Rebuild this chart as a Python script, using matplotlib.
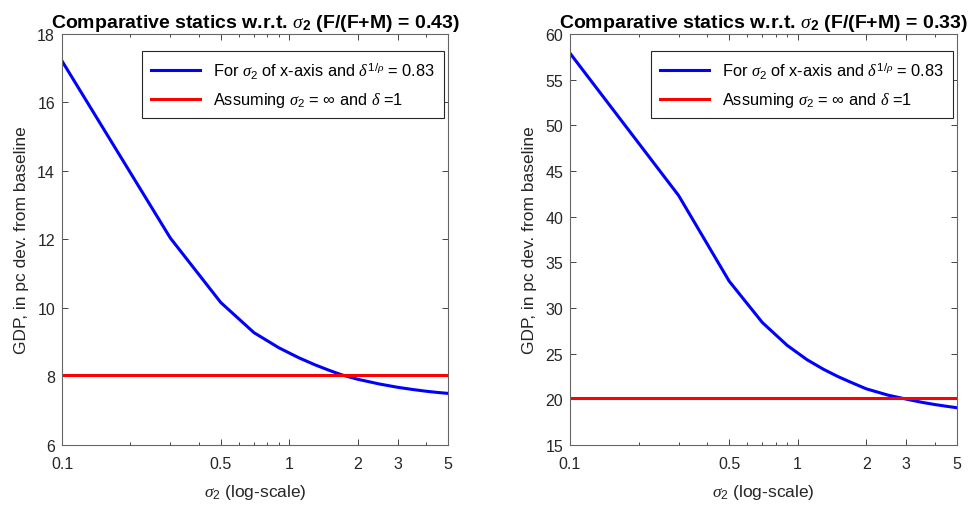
import numpy as np
import matplotlib.pyplot as plt
from matplotlib.ticker import FixedLocator, NullFormatter

plt.rcParams['font.family'] = ['Liberation Sans', 'DejaVu Sans']
plt.rcParams['mathtext.fontset'] = 'custom'
plt.rcParams['mathtext.rm'] = 'Liberation Sans'
plt.rcParams['mathtext.it'] = 'Liberation Serif:italic'
plt.rcParams['mathtext.bf'] = 'Liberation Sans:bold'

# sigma_2 grid
sigma2 = [0.1, 0.3, 0.5, 0.7, 0.9, 1.1, 1.3, 1.5, 1.7, 2.0, 2.5, 3.0, 3.5, 4.0, 4.5, 5.0]

# GDP response, F/(F+M) = 0.43
gdp_043 = [17.21, 12.04, 10.16, 9.28, 8.84, 8.55, 8.34, 8.18, 8.05, 7.92, 7.78, 7.685, 7.62, 7.57, 7.534, 7.507]
inf_043 = 8.03

# GDP response, F/(F+M) = 0.33
gdp_033 = [57.89, 42.31, 32.94, 28.40, 25.90, 24.33, 23.28, 22.50, 21.90, 21.15, 20.45, 20.02, 19.68, 19.43, 19.24, 19.08]
inf_033 = 20.12

shares = ['0.43', '0.33']
ylims = [(6, 18), (15, 60)]
ystep = [2, 5]

xticks = [0.1, 0.5, 1, 2, 3, 5]
xtick_labels = ['0.1', '0.5', '1', '2', '3', '5']
xminor = [0.2, 0.3, 0.4, 0.6, 0.7, 0.8, 0.9, 4]

fig = plt.figure(figsize=(9.72, 5.1), dpi=100)
positions = [[0.0638, 0.1255, 0.397, 0.806], [0.5864, 0.1255, 0.398, 0.806]]

for pos, share, gdp, inf, ylim, step in zip(positions, shares, [gdp_043, gdp_033],
                                             [inf_043, inf_033], ylims, ystep):
    ax = fig.add_axes(pos)
    ax.plot(sigma2, gdp, color='#0000ff', lw=2.2,
            label=r'For $\sigma_2$ of x-axis and $\delta^{1/\rho}$ = 0.83')
    ax.plot([sigma2[0], sigma2[-1]], [inf, inf], color='#ff0000', lw=2.2,
            label=r'Assuming $\sigma_2$ = $\infty$ and $\delta$ =1')
    ax.set_xscale('log')
    ax.set_xlim(0.1, 5)
    ax.set_ylim(*ylim)
    ax.xaxis.set_major_locator(FixedLocator(xticks))
    ax.set_xticklabels(xtick_labels)
    ax.xaxis.set_minor_locator(FixedLocator(xminor))
    ax.xaxis.set_minor_formatter(NullFormatter())
    ax.set_yticks(np.arange(ylim[0], ylim[1] + 0.1, step))
    ax.tick_params(which='both', direction='in', top=True, right=True,
                   colors='#262626', labelsize=11.5, width=0.6)
    ax.tick_params(which='major', length=4, pad=5)
    ax.tick_params(axis='x', which='major', pad=8)
    ax.tick_params(which='minor', length=2.5)
    for sp in ax.spines.values():
        sp.set_color('#666666')
        sp.set_linewidth(0.8)
    ax.set_title(r'Comparative statics w.r.t. $\sigma_\mathbf{2}$ (F/(F+M) = ' + share + ')',
                 fontsize=14, fontweight='bold', pad=5)
    ax.set_xlabel(r'$\sigma_2$ (log-scale)', fontsize=12.5, color='#262626', labelpad=8)
    ax.set_ylabel('GDP, in pc dev. from baseline', fontsize=12.5, color='#262626', labelpad=6)
    leg = ax.legend(loc='upper right', fontsize=11.8, handlelength=3.0, fancybox=False,
                    framealpha=1, edgecolor='#262626', borderpad=0.55, labelspacing=0.6,
                    borderaxespad=0, bbox_to_anchor=(0.99, 0.958))
    leg.get_frame().set_linewidth(0.8)

fig.savefig('out.png', dpi=100)
